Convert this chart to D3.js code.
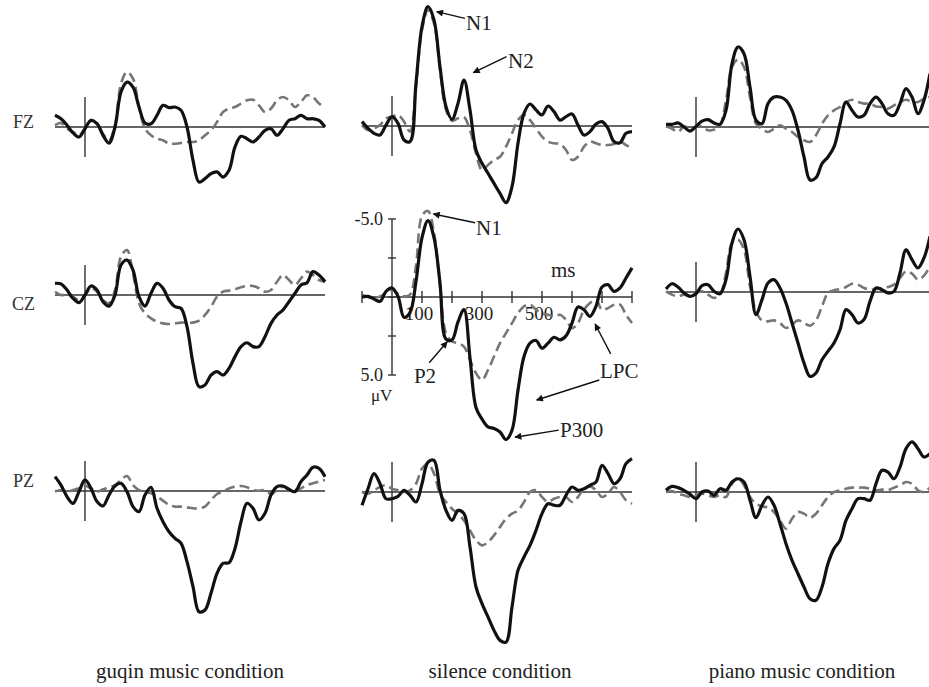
<!DOCTYPE html>
<html><head><meta charset="utf-8">
<script src="https://cdn.jsdelivr.net/npm/d3@7"></script>
<style>html,body{margin:0;padding:0;background:#fff;}svg{display:block;}</style>
</head><body>
<svg id="chart" width="929" height="687"></svg>
<script>
// ---------- data ----------
const timesMs = d3.range(-100, 801, 20); // sample times (ms)
const electrodes = ["FZ", "CZ", "PZ"];
const conditions = ["guqin music condition", "silence condition", "piano music condition"];
const xTickMs = [-100, 0, 100, 200, 300, 400, 500, 600, 700, 800];
const xTickLabels = ["100", "300", "500"];
const yTickUv = [-5, -2.5, 0, 2.5, 5];
const yTickLabels = ["-5.0", "5.0"];

// values in µV (negative plotted up); solid black = first series, dashed grey = second
const fzGuqinBlack = [-0.75,-0.53,-0.11,0.38,0.64,0.11,-0.43,-0.21,0.53,1.03,0,-2.24,-2.88,-2.56,-1.28,-0.26,-0.21,-0.75,-1.39,-1.24,-1.28,-1.07,0,2.14,3.53,3.31,2.99,2.88,3.21,2.78,1.28,0.6,0.75,0.96,0.64,0.21,0.11,0.53,0.11,-0.43,-0.53,-0.75,-0.53,-0.53,-0.43,0];
const fzGuqinGrey  = [-0.11,-0.26,0.11,0.32,0.53,0.11,-0.38,-0.21,0.43,0.85,-0.11,-2.78,-3.53,-3.1,-1.28,0.11,0.53,0.75,0.85,1.07,1.07,1.03,0.96,0.96,0.85,0.53,0.21,-0.32,-0.96,-1.18,-1.28,-1.5,-1.71,-1.75,-1.39,-0.96,-1.18,-1.71,-1.92,-1.71,-1.28,-1.6,-2.03,-1.92,-1.5,-1.28];
const fzSilenceBlack = [-0.28,0.15,0.47,0.58,-0.06,-0.6,-0.17,0.9,1.0,-2.74,-6.37,-7.65,-6.8,-3.8,-1.24,-0.43,-1.45,-2.95,-1.03,1.54,2.39,3.03,3.68,4.32,4.91,3.89,1.11,-0.81,-1.41,-1.03,-0.71,-1.28,-0.92,-0.38,-0.6,-0.77,-0.06,0.58,0.36,-0.13,-0.28,0.15,1.0,1.07,0.47,0.36];
const fzSilenceGrey  = [-0.06,0.26,0.15,-0.06,-0.49,-0.6,-0.71,-0.28,0.36,-2.52,-6.15,-7.44,-6.58,-3.59,-1.03,-0.34,-0.49,-0.56,0.26,1.75,2.82,2.5,2.18,1.97,1.32,0.47,-0.38,-0.71,-0.38,0.15,0.68,1.0,1.11,1.15,1.54,2.18,1.97,1.32,1.0,1.11,1.22,1.22,1.15,1.0,1.22,1.43];
const fzPianoBlack = [-0.17,-0.17,-0.26,0,0.26,-0.04,-0.38,-0.47,-0.26,-0.17,-1.07,-4.06,-5.13,-4.7,-2.56,-0.43,-0.21,-1.5,-1.92,-1.92,-1.71,-1.07,0.21,1.92,3.4,3.25,2.35,1.92,1.28,-0.21,-1.6,-1.07,-0.64,-0.75,-1.5,-1.92,-1.5,-0.85,-0.75,-1.5,-2.46,-1.92,-0.85,-1.71,-3.42];
const fzPianoGrey  = [-0.04,0.11,0.32,-0.04,0.11,0,-0.04,0.21,0.17,-0.11,-1.71,-3.85,-4.32,-3.85,-1.92,-0.21,0.11,0.32,0.11,-0.11,0.11,0.32,0.64,0.85,0.96,0.53,-0.21,-0.75,-1.07,-1.28,-1.6,-1.75,-1.6,-1.5,-1.5,-1.32,-1.28,-1.18,-1.39,-1.6,-1.75,-1.6,-1.6,-1.82,-1.92];
const czGuqinBlack = [-0.75,-0.71,-0.32,0.21,0.49,0,-0.58,-0.32,0.43,0.71,0,-1.92,-2.24,-1.6,0.11,0.71,-0.11,-0.75,-0.43,0.32,0.75,0.85,2.03,4.38,5.88,5.77,5.13,4.91,5.13,4.7,3.95,3.31,3.06,3.31,3.31,2.67,1.82,1.28,0.96,0.43,-0.11,-0.64,-0.79,-1.5,-1.28,-0.85];
const czGuqinGrey  = [-0.21,0,0,0.11,0.32,0,-0.43,-0.21,0.32,0.53,-0.32,-2.46,-2.88,-1.39,0.53,1.18,1.5,1.71,1.82,1.86,1.82,1.77,1.77,1.77,1.65,1.28,0.75,0.11,-0.21,-0.28,-0.36,-0.49,-0.58,-0.58,-0.43,-0.21,-0.32,-0.85,-1.28,-0.96,-0.64,-1.07,-1.5,-1.28,-0.96,-0.85];
const czSilenceBlack = [0,-0.04,0.13,0.28,-0.36,-0.58,-0.04,1.3,1.0,-1.0,-3.8,-4.9,-3.8,-0.9,2.7,2.75,1.6,0.8,3.9,7.08,7.83,8.33,8.43,8.65,9.14,8.54,5.97,3.82,2.96,2.79,3.28,2.96,2.58,2.75,2.49,1.67,0.64,0.82,1.24,0.6,-0.64,-0.79,-0.36,-0.58,-1.22,-1.87];
const czSilenceGrey  = [-0.15,0,0.06,-0.04,-0.26,-0.47,-0.21,-0.04,-0.15,-2.0,-5.19,-5.52,-4.12,-0.69,2.32,2.85,2.96,3.18,4.03,4.89,5.32,4.68,3.82,2.96,2.32,1.67,1.03,0.6,0.49,0.82,1.03,1.14,1.24,1.14,1.46,2.0,1.67,0.82,0.39,0.17,0.82,0.71,0.49,0.49,1.14,1.67];
const czPianoBlack = [-0.19,-0.53,-0.32,0.06,0.28,0.11,-0.41,-0.47,-0.04,0.11,-0.79,-3.14,-4.04,-3.35,-1.0,1.45,0.49,-0.58,-0.79,-0.26,0.71,1.99,3.27,4.55,5.41,5.19,4.34,3.8,3.27,2.42,1.13,1.45,1.99,1.77,0.6,-0.26,-0.15,0.06,-0.04,-1.22,-2.71,-2.07,-1.54,-2.18,-3.57];
const czPianoGrey  = [-0.04,0.17,0.28,0.17,0.28,0.06,-0.04,0.17,0.38,0.17,-1.22,-3.14,-3.35,-2.71,-0.36,1.24,1.82,1.88,1.82,1.99,2.31,2.09,1.82,1.99,2.16,1.82,0.92,0.06,-0.11,-0.19,-0.32,-0.53,-0.47,-0.26,-0.15,-0.19,-0.26,-0.32,-0.47,-0.9,-1.32,-1.18,-0.79,-1.05,-1.65];
const pzGuqinBlack = [-0.92,-0.38,0.36,0.79,0.04,-0.71,-0.17,0.68,0.96,0.26,-0.32,-0.49,0.04,1.0,1.32,0.26,-0.24,1.11,1.97,2.61,3.04,3.35,4.53,6.13,7.74,7.63,6.56,5.28,4.64,4.6,3.68,1.97,0.79,1.11,1.86,1.43,0.26,-0.28,-0.32,-0.11,0.04,-0.6,-1.03,-1.52,-1.45,-0.92];
const pzGuqinGrey  = [0.04,-0.06,0.04,-0.06,-0.17,-0.32,-0.17,0.04,-0.11,-0.24,-0.38,-0.71,-0.96,-0.38,-0.06,0.04,0.15,0.36,0.62,0.9,1.0,1.0,1.05,1.11,1.11,1.0,0.58,0.19,0.04,-0.17,-0.28,-0.32,-0.24,-0.06,-0.02,-0.06,0.19,-0.06,-0.28,-0.11,-0.06,-0.17,-0.38,-0.49,-0.6,-0.71];
const pzSilenceBlack = [0.85,-0.21,-1.18,-0.53,0.43,0.43,0.28,-0.11,0.21,0.64,-0.53,-1.92,-2.03,-0.11,1.18,1.82,1.18,1.39,3.53,6.09,7.16,8.01,8.87,9.51,9.62,7.37,5.02,4.17,3.42,2.46,1.39,0.75,0.85,0.85,0.21,-0.32,-0.11,-0.21,-0.43,-0.64,-1.71,-1.18,-0.53,-0.85,-1.82,-2.14];
const pzSilenceGrey  = [0,0.11,-0.11,-0.32,-0.43,-0.21,-0.11,0,-0.11,-0.53,-1.5,-1.82,-1.18,0.11,0.64,1.07,1.39,1.82,2.46,3.1,3.42,3.21,2.78,2.24,1.71,1.39,1.18,0.64,0,-0.11,0.32,0.64,0.43,0.32,0.32,0.64,0.32,-0.21,-0.36,-0.11,0.32,0.11,-0.32,0,0.53,0.75];
const pzPianoBlack = [-0.11,-0.36,-0.28,-0.11,0.15,0.43,0,-0.06,0.21,-0.21,-0.11,-0.64,-0.85,-0.64,0.53,1.65,0.85,0.32,0.85,2.03,3.31,4.38,5.24,6.09,6.84,6.94,6.09,4.59,3.63,3.1,1.82,1.07,0.43,0.43,0.53,-0.53,-1.39,-1.28,-0.85,-1.6,-2.78,-3.21,-2.78,-2.24,-2.46];
const pzPianoGrey  = [0,-0.06,0.11,0.21,0.32,0.21,0.11,0.21,0.32,0.21,0.32,-0.53,-0.92,-0.43,0.32,0.75,0.92,1.0,1.28,1.82,2.35,1.71,1.28,1.39,1.65,1.39,0.85,0.32,0,-0.11,-0.21,-0.28,-0.28,-0.28,-0.21,-0.11,-0.15,-0.11,-0.28,-0.43,-0.64,-0.53,-0.11,0,-0.28];

const panelSeries = [
  [[fzGuqinBlack, fzGuqinGrey], [fzSilenceBlack, fzSilenceGrey], [fzPianoBlack, fzPianoGrey]],
  [[czGuqinBlack, czGuqinGrey], [czSilenceBlack, czSilenceGrey], [czPianoBlack, czPianoGrey]],
  [[pzGuqinBlack, pzGuqinGrey], [pzSilenceBlack, pzSilenceGrey], [pzPianoBlack, pzPianoGrey]]
];

// annotations (silence column), positions in ms / µV
const annotations = [
  {row:0, text:"N1", tx:247, ty:-6.15, from:[243,-6.9], to:[149,-7.33]},
  {row:0, text:"N2", tx:387, ty:-3.72, from:[382,-4.44], to:[271,-3.42]},
  {row:1, text:"N1", tx:280, ty:-3.97, from:[277,-4.76], to:[138,-5.32]},
  {row:1, text:"P2", tx:73, ty:5.51, from:[124,4.21], to:[184,2.87]},
  {row:1, text:"P300", tx:560, ty:8.97, from:[556,8.53], to:[410,8.99]},
  {row:1, text:"LPC", tx:693, ty:5.19, from:[729,3.65], to:[677,1.73]},
  {row:1, text:"", tx:0, ty:0, from:[691,5.32], to:[482,6.6]}
];

// ---------- layout ----------
const zeroX = [85, 392, 696];
const baseY = [[127,126,127],[295,297,292],[491,492,492]];
const pxPerMs = 0.3, pxPerUv = 15.6;
const serif = "'Liberation Serif', 'Times New Roman', serif";

const svg = d3.select("#chart");
const defs = svg.append("defs");
defs.append("marker").attr("id","arrow").attr("viewBox","0 0 10 10")
  .attr("refX",9).attr("refY",5).attr("markerWidth",9).attr("markerHeight",7)
  .attr("markerUnits","userSpaceOnUse").attr("orient","auto")
  .append("path").attr("d","M0,0L10,5L0,10z").attr("fill","#111");

electrodes.forEach((el, r) => {
  conditions.forEach((cond, c) => {
    const zx = zeroX[c], by = baseY[r][c];
    const x = d3.scaleLinear().domain([-100, 800]).range([zx - 100*pxPerMs, zx + 800*pxPerMs]);
    const y = d3.scaleLinear().domain([-5, 5]).range([by - 5*pxPerUv, by + 5*pxPerUv]);
    const g = svg.append("g");
    const center = (r === 1 && c === 1);

    // zero line
    g.append("line").attr("x1", x(-100)).attr("x2", x(800)).attr("y1", y(0)).attr("y2", y(0))
      .attr("stroke", "#333").attr("stroke-width", 1.6);
    // vertical onset line / axis
    const vr = center ? 5 : 1.92;
    g.append("line").attr("x1", x(0)).attr("x2", x(0)).attr("y1", y(-vr)).attr("y2", y(vr))
      .attr("stroke", "#333").attr("stroke-width", 1.4);

    if (center) {
      g.selectAll(".yt").data(yTickUv).enter().append("line")
        .attr("x1", x(0) - 4).attr("x2", x(0) + 4).attr("y1", d => y(d)).attr("y2", d => y(d))
        .attr("stroke", "#333").attr("stroke-width", 1.4);
      g.selectAll(".xt").data(xTickMs.filter(d => d !== 0)).enter().append("line")
        .attr("x1", d => x(d)).attr("x2", d => x(d)).attr("y1", y(0) - 6).attr("y2", y(0) + 6)
        .attr("stroke", "#333").attr("stroke-width", 1.4);
      g.selectAll(".xl").data(xTickLabels).enter().append("text")
        .attr("x", d => x(+d) - 3).attr("y", y(0) + 23).attr("text-anchor", "middle")
        .attr("font-family", serif).attr("font-size", 19).attr("fill", "#222").text(d => d);
      g.selectAll(".yl").data(yTickLabels).enter().append("text")
        .attr("x", x(0) - 9).attr("y", d => y(+d) + 6).attr("text-anchor", "end")
        .attr("font-family", serif).attr("font-size", 18).attr("fill", "#222").text(d => d);
      g.append("text").attr("x", x(0) - 21).attr("y", y(5) + 26)
        .attr("font-family", serif).attr("font-size", 17).attr("fill", "#222").text("μV");
      g.append("text").attr("x", x(530)).attr("y", y(-1.28))
        .attr("font-family", serif).attr("font-size", 21).attr("fill", "#222").text("ms");
    }

    const [blackVals, greyVals] = panelSeries[r][c];
    const line = d3.line().x((d, i) => x(timesMs[i])).y(d => y(d)).curve(d3.curveCatmullRom.alpha(0.5));
    g.append("path").attr("d", line(greyVals)).attr("fill", "none")
      .attr("stroke", "#767676").attr("stroke-width", 2.6).attr("stroke-dasharray", "10,5");
    g.append("path").attr("d", line(blackVals)).attr("fill", "none")
      .attr("stroke", "#111").attr("stroke-width", 3.2).attr("stroke-linejoin", "round");

    if (c === 1) {
      annotations.filter(a => a.row === r).forEach(a => {
        g.append("line").attr("x1", x(a.from[0])).attr("y1", y(a.from[1]))
          .attr("x2", x(a.to[0])).attr("y2", y(a.to[1]))
          .attr("stroke", "#111").attr("stroke-width", 1.4).attr("marker-end", "url(#arrow)");
        if (a.text) g.append("text").attr("x", x(a.tx)).attr("y", y(a.ty))
          .attr("font-family", serif).attr("font-size", 21).attr("fill", "#222").text(a.text);
      });
    }
  });
});

// row labels
const rowLabelPos = [[13,128],[12,310],[13,487]];
svg.selectAll(".rl").data(electrodes).enter().append("text")
  .attr("x", (d,i) => rowLabelPos[i][0]).attr("y", (d,i) => rowLabelPos[i][1])
  .attr("font-family", serif).attr("font-size", 18).attr("fill", "#333").text(d => d);

// condition labels
const condCenters = [190, 500, 802];
svg.selectAll(".cl").data(conditions).enter().append("text")
  .attr("x", (d,i) => condCenters[i]).attr("y", 678).attr("text-anchor", "middle")
  .attr("font-family", serif).attr("font-size", 21).attr("fill", "#222").text(d => d);
</script>
</body></html>
